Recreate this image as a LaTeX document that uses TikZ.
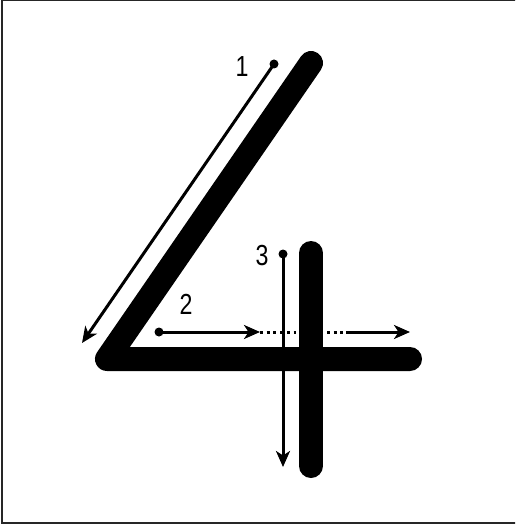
\documentclass[tikz,border=0pt]{standalone}
\usepackage{fontspec}
\setmainfont{Liberation Sans}
\usetikzlibrary{arrows.meta}
\begin{document}
\begin{tikzpicture}[x=1pt,y=-1pt,
  stroke/.style={line width=24pt,line cap=round,line join=round},
  guide/.style={line width=3pt,-{Stealth[length=16pt,width=14pt,inset=4.5pt]}},
  startdot/.style={circle,fill=black,inner sep=0pt,minimum size=9pt},
  numlabel/.style={font=\fontsize{29}{29}\selectfont,inner sep=0pt,xscale=0.8},
  dotline/.style={line width=3pt,dash pattern=on 2.8pt off 3.9pt}]
\useasboundingbox (0,0) rectangle (515,529);
\begin{scope}
\clip (0,0) rectangle (515,529);
\draw[line width=2pt,black!85] (2,0) rectangle (530,522.5);
\end{scope}
% the figure 4
\coordinate (top) at (311,63);
\coordinate (corner) at (107,359);
\coordinate (right) at (410,359);
\coordinate (vtop) at (311,253);
\coordinate (vbot) at (311,466);
\draw[stroke] (top) -- (corner) -- (right);
\draw[stroke] (vtop) -- (vbot);
% guide 1
\node[startdot] (s1) at (274,64) {};
\coordinate (e1) at (82,343);
\draw[guide] (s1.center) -- (e1);
\node[numlabel] (l1) at (242,67) {1};
% guide 2
\node[startdot] (s2) at (159,332) {};
\coordinate (m2) at (260,332);
\coordinate (n2) at (346,332);
\coordinate (e2) at (410,332);
\draw[guide] (s2.center) -- (m2);
\draw[dotline] (m2) -- (n2);
\draw[guide] (n2) -- (e2);
\node[numlabel] (l2) at (186,304) {2};
% guide 3
\node[startdot] (s3) at (283,254) {};
\coordinate (e3) at (283,467);
\draw[guide] (s3.center) -- (e3);
\node[numlabel] (l3) at (262,256) {3};
\end{tikzpicture}
\end{document}
